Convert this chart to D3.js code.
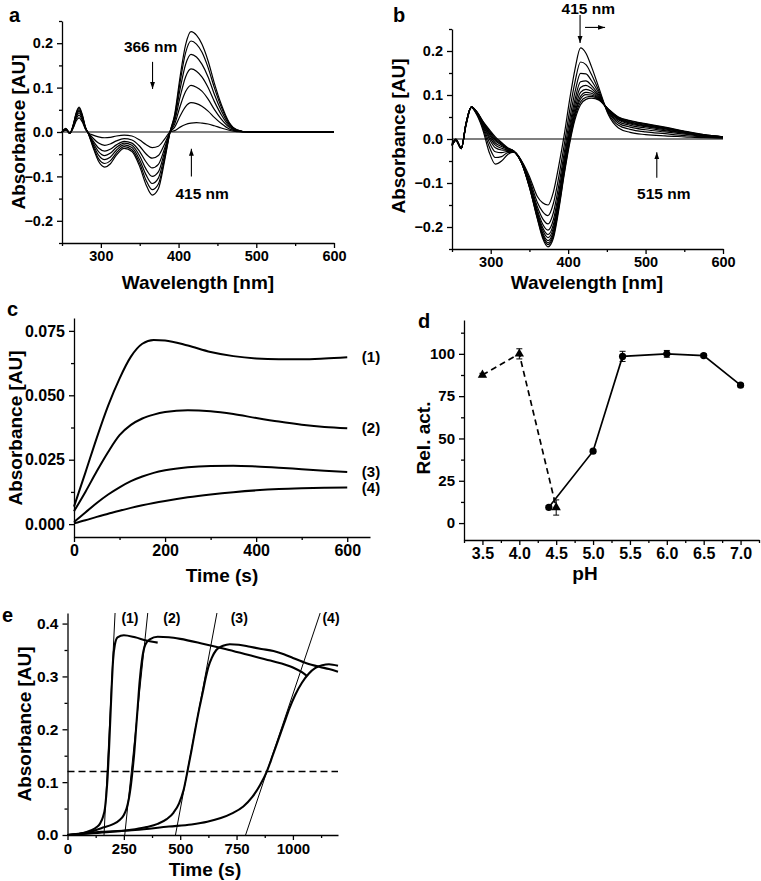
<!DOCTYPE html>
<html><head><meta charset="utf-8">
<script src="https://cdn.jsdelivr.net/npm/d3@7"></script>
<style>
body{margin:0;background:#fff}
svg text{font-family:"Liberation Sans",Arial,sans-serif;font-weight:bold;fill:#000}
</style>
</head><body>
<svg id="fig" width="761" height="881"></svg>
<script>
// ---------- Panel a: difference spectra ----------
const waveA = [250,255,260,265,268,272,276,280,284,290,297,305,312,320,330,340,350,358,366,374,382,389,395,402,409,416,423,430,438,446,455,465,475,490,510,600];
const specA1 = [0,.008,-.003,.02,.042,.056,.04,.012,-.004,-.035,-.066,-.079,-.072,-.052,-.037,-.044,-.078,-.118,-.142,-.128,-.065,0,.04,.125,.196,.226,.218,.198,.16,.11,.062,.022,.005,0,0,0];
const specA2 = [0,.007,-.003,.019,.04,.053,.038,.011,-.004,-.032,-.06,-.071,-.065,-.047,-.033,-.04,-.071,-.108,-.130,-.117,-.06,0,.036,.113,.178,.205,.198,.18,.145,.1,.056,.02,.005,0,0,0];
const specA3 = [0,.007,-.003,.018,.038,.05,.036,.01,-.004,-.028,-.052,-.062,-.057,-.041,-.029,-.035,-.063,-.096,-.116,-.104,-.053,0,.031,.097,.152,.175,.169,.153,.124,.085,.048,.017,.004,0,0,0];
const specA4 = [0,.006,-.003,.017,.035,.047,.034,.01,-.003,-.024,-.044,-.053,-.048,-.035,-.025,-.030,-.054,-.083,-.100,-.09,-.045,0,.025,.079,.124,.142,.137,.124,.1,.069,.039,.014,.003,0,0,0];
const specA5 = [0,.006,-.002,.015,.032,.043,.031,.009,-.003,-.02,-.036,-.043,-.039,-.029,-.021,-.025,-.044,-.067,-.081,-.073,-.037,0,.018,.058,.091,.105,.101,.092,.074,.051,.029,.011,.003,0,0,0];
const specA6 = [0,.005,-.002,.013,.028,.038,.027,.008,-.002,-.014,-.025,-.030,-.027,-.02,-.015,-.018,-.032,-.049,-.059,-.053,-.027,0,.011,.036,.057,.066,.064,.058,.047,.033,.019,.007,.002,0,0,0];
const specA7 = [0,.004,-.002,.011,.024,.032,.023,.007,-.002,-.007,-.011,-.013,-.012,-.009,-.007,-.009,-.018,-.028,-.035,-.032,-.016,0,.003,.011,.017,.020,.021,.02,.018,.014,.009,.004,.001,0,0,0];

// ---------- Panel b: spectra ----------
const waveB = [250,255,262,268,275,282,290,298,306,314,322,330,340,350,360,367,374,381,388,395,402,409,416,423,430,440,452,465,480,500,525,550,575,600];
const specB1 = [-.010,0,-.020,.030,.072,.055,.020,-.030,-.057,-.050,-.035,-.030,-.050,-.085,-.130,-.145,-.150,-.120,-.060,.010,.090,.160,.207,.195,.165,.115,.055,.025,.015,.010,.007,.005,.003,.002];
const specB2 = [-.011,-.001,-.021,.031,.072,.057,.025,-.017,-.042,-.040,-.031,-.030,-.051,-.091,-.143,-.165,-.174,-.146,-.085,-.013,.065,.131,.175,.169,.147,.108,.058,.031,.022,.016,.012,.008,.005,.003];
const specB3 = [-.012,-.001,-.021,.032,.072,.058,.029,-.007,-.029,-.031,-.028,-.029,-.052,-.096,-.153,-.181,-.193,-.167,-.105,-.031,.045,.108,.149,.148,.133,.103,.061,.036,.027,.021,.016,.011,.006,.003];
const specB4 = [-.013,-.002,-.021,.033,.073,.059,.032,.001,-.020,-.025,-.026,-.029,-.053,-.100,-.160,-.193,-.207,-.183,-.120,-.044,.030,.091,.130,.132,.122,.099,.063,.040,.031,.025,.019,.013,.007,.004];
const specB5 = [-.014,-.002,-.021,.034,.073,.060,.034,.006,-.014,-.021,-.025,-.029,-.054,-.103,-.165,-.201,-.217,-.194,-.130,-.053,.020,.080,.117,.122,.115,.096,.064,.043,.034,.028,.021,.014,.008,.004];
const specB6 = [-.014,-.002,-.022,.034,.073,.060,.036,.011,-.009,-.017,-.023,-.028,-.054,-.105,-.169,-.207,-.224,-.202,-.138,-.060,.012,.070,.106,.113,.109,.094,.065,.045,.036,.030,.023,.015,.008,.004];
const specB7 = [-.014,-.003,-.022,.034,.073,.061,.037,.014,-.004,-.014,-.022,-.028,-.054,-.106,-.173,-.213,-.231,-.209,-.145,-.067,.005,.062,.097,.106,.104,.092,.066,.046,.038,.031,.024,.016,.009,.005];
const specB8 = [-.015,-.003,-.022,.035,.073,.061,.038,.017,-.001,-.012,-.022,-.028,-.055,-.108,-.175,-.217,-.236,-.215,-.150,-.071,.000,.057,.091,.101,.100,.091,.067,.048,.039,.033,.025,.017,.009,.005];
const specB9 = [-.015,-.003,-.022,.035,.073,.062,.039,.019,.002,-.010,-.021,-.028,-.055,-.109,-.178,-.221,-.240,-.220,-.155,-.076,-.005,.051,.084,.095,.097,.089,.067,.049,.041,.034,.026,.017,.010,.005];
const specB10 = [-.015,-.003,-.022,.035,.073,.062,.040,.022,.005,-.008,-.020,-.028,-.055,-.110,-.180,-.225,-.245,-.225,-.160,-.080,-.010,.045,.078,.090,.093,.088,.068,.050,.042,.035,.027,.018,.010,.005];

// ---------- Panel c: kinetics ----------
const timeC = [0,25,50,75,100,125,150,175,200,250,300,350,400,450,500,550,600];
const absC1 = [0.0068,0.02,0.0335,0.046,0.0565,0.065,0.0700,0.0715,0.0713,0.0693,0.0668,0.0652,0.0643,0.0640,0.0640,0.0643,0.0648];
const absC2 = [0.005,0.0125,0.0205,0.028,0.0345,0.0385,0.041,0.0425,0.0435,0.0442,0.0438,0.0427,0.0412,0.0398,0.0386,0.0377,0.0372];
const absC3 = [0.0008,0.0045,0.0082,0.0115,0.0143,0.0167,0.0185,0.0199,0.0209,0.0221,0.0226,0.0227,0.0224,0.0219,0.0213,0.0207,0.0202];
const absC4 = [0.0003,0.0015,0.0028,0.004,0.0052,0.0063,0.0073,0.0082,0.009,0.0104,0.0115,0.0124,0.0131,0.0136,0.0139,0.0141,0.0142];
const labelsC = ["(1)","(2)","(3)","(4)"];

// ---------- Panel d: pH profile ----------
const phTri = [3.5,4.0,4.5];
const actTri = [87.5,100,9.2];
const errTri = [1,3,4.5];
const phCirc = [4.4,5.0,5.4,6.0,6.5,7.0];
const actCirc = [9.3,42.5,98.5,100,99,81.5];
const errCirc = [1,1,3,2,1,1];

// ---------- Panel e: lag-phase kinetics ----------
const timeE1 = [0,50,100,130,145,158,166,172,178,184,190,196,202,210,222,250,300,350,400];
const absE1 = [0,0.002,0.008,0.015,0.022,0.035,0.05,0.075,0.11,0.16,0.22,0.28,0.33,0.36,0.374,0.378,0.374,0.368,0.364];
const timeE2 = [0,50,100,150,200,230,250,262,272,280,288,296,304,312,320,330,345,365,400,450,500,600,700,800,900,1000,1040,1062];
const absE2 = [0,0.002,0.006,0.013,0.02,0.028,0.038,0.05,0.068,0.09,0.12,0.155,0.2,0.245,0.29,0.33,0.36,0.37,0.375,0.374,0.371,0.362,0.352,0.341,0.33,0.317,0.308,0.301];
const timeE3 = [0,100,200,300,350,400,440,470,495,515,532,550,567,585,600,612,625,640,660,690,720,760,810,860,914,960,1000,1060,1120,1160,1200];
const absE3 = [0,0.003,0.006,0.011,0.015,0.021,0.03,0.042,0.06,0.085,0.12,0.16,0.2,0.24,0.27,0.295,0.318,0.335,0.35,0.358,0.361,0.36,0.356,0.352,0.348,0.342,0.335,0.325,0.318,0.314,0.309];
const timeE4 = [0,150,300,450,550,620,680,730,780,820,855,884,910,935,960,985,1010,1040,1070,1100,1130,1160,1200];
const absE4 = [0,0.006,0.0095,0.016,0.02,0.025,0.032,0.041,0.054,0.072,0.095,0.12,0.15,0.18,0.21,0.24,0.265,0.288,0.305,0.316,0.321,0.323,0.32];
const tangentT0 = [162,254,479,790];
const tangentT1 = [211,356,663,1121];
const threshold = 0.12;
const labelsE = ["(1)","(2)","(3)","(4)"];
const labelTE = [277,463,762,1169];

// ================= drawing =================
const svg = d3.select('#fig');
const FONT = '"Liberation Sans",Arial,sans-serif';

svg.append('defs').append('marker')
  .attr('id','arr').attr('viewBox','0 0 10 10').attr('refX',10).attr('refY',5)
  .attr('markerWidth',7).attr('markerHeight',7).attr('orient','auto-start-reverse')
  .attr('markerUnits','userSpaceOnUse')
  .append('path').attr('d','M0,1.5 L10,5 L0,8.5 z').attr('fill','#000');

function axes(g, x, y, c) {
  const y0 = y.range()[0], x0 = x.range()[0];
  const style = fs => sel => {
    sel.attr('font-size', fs).attr('font-family', FONT).attr('font-weight','bold');
    sel.selectAll('.domain,.tick line').attr('stroke','#000').attr('stroke-width',1.3);
    sel.selectAll('.tick text').attr('fill','#000');
  };
  g.append('g').attr('transform',`translate(0,${y0})`)
    .call(d3.axisBottom(x).tickValues(c.xMinor).tickFormat('').tickSize(3).tickSizeOuter(0))
    .call(style(c.xfs)).select('.domain').remove();
  g.append('g').attr('transform',`translate(${x0},0)`)
    .call(d3.axisLeft(y).tickValues(c.yMinor).tickFormat('').tickSize(3).tickSizeOuter(0))
    .call(style(c.yfs)).select('.domain').remove();
  g.append('g').attr('transform',`translate(0,${y0})`)
    .call(d3.axisBottom(x).tickValues(c.xMajor).tickFormat(c.xFmt).tickSize(5).tickSizeOuter(0).tickPadding(3))
    .call(style(c.xfs));
  g.append('g').attr('transform',`translate(${x0},0)`)
    .call(d3.axisLeft(y).tickValues(c.yMajor).tickFormat(c.yFmt).tickSize(5).tickSizeOuter(0).tickPadding(4))
    .call(style(c.yfs));
}
function title(g, txt, x, y, rot, size) {
  const t = g.append('text').text(txt).attr('font-size', size || 19).attr('text-anchor','middle');
  if (rot) t.attr('transform',`translate(${x},${y}) rotate(-90)`);
  else t.attr('x',x).attr('y',y);
  return t;
}
function letter(txt, x, y) {
  svg.append('text').text(txt).attr('x',x).attr('y',y).attr('font-size',20);
}
function arrow(g, x1, y1, x2, y2) {
  g.append('line').attr('x1',x1).attr('y1',y1).attr('x2',x2).attr('y2',y2)
    .attr('stroke','#000').attr('stroke-width',1.1).attr('marker-end','url(#arr)');
}

// ---- Panel a ----
{
  const g = svg.append('g');
  const x = d3.scaleLinear().domain([250,600]).range([62,334]);
  const y = d3.scaleLinear().domain([-0.25,0.25]).range([243,21]);
  const line = d3.line().x((d,i)=>x(waveA[i])).y(d=>y(d)).curve(d3.curveMonotoneX);
  g.append('line').attr('x1',x(250)).attr('x2',x(600)).attr('y1',y(0)).attr('y2',y(0)).attr('stroke','#000').attr('stroke-width',1.2);
  [specA1,specA2,specA3,specA4,specA5,specA6,specA7].forEach(s=>{
    g.append('path').attr('d',line(s)).attr('fill','none').attr('stroke','#000').attr('stroke-width',1.2);
  });
  axes(g,x,y,{xMajor:[300,400,500,600],xMinor:[250,350,450,550],xFmt:d3.format('d'),xfs:14.5,yfs:14.5,
    yMajor:[-0.2,-0.1,0,0.1,0.2],yMinor:[-0.25,-0.15,-0.05,0.05,0.15,0.25],yFmt:d3.format('.1f')});
  title(g,'Wavelength [nm]',198,289);
  title(g,'Absorbance [AU]',25,132,true);
  g.append('text').text('366 nm').attr('x',x(364)).attr('y',y(0.181)).attr('text-anchor','middle').attr('font-size',15.5);
  arrow(g,x(366.5),y(0.158),x(366.5),y(0.097));
  g.append('text').text('415 nm').attr('x',x(396)).attr('y',y(-0.15)).attr('font-size',15.5);
  arrow(g,x(416.5),y(-0.1),x(416.5),y(-0.038));
}
letter('a',9,22);

// ---- Panel b ----
{
  const g = svg.append('g');
  const x = d3.scaleLinear().domain([250,600]).range([452,723]);
  const y = d3.scaleLinear().domain([-0.25,0.25]).range([249,29]);
  const line = d3.line().x((d,i)=>x(waveB[i])).y(d=>y(d)).curve(d3.curveMonotoneX);
  g.append('line').attr('x1',x(250)).attr('x2',x(600)).attr('y1',y(0)).attr('y2',y(0)).attr('stroke','#000').attr('stroke-width',1.2);
  [specB1,specB2,specB3,specB4,specB5,specB6,specB7,specB8,specB9,specB10].forEach(s=>{
    g.append('path').attr('d',line(s)).attr('fill','none').attr('stroke','#000').attr('stroke-width',1.2);
  });
  axes(g,x,y,{xMajor:[300,400,500,600],xMinor:[250,350,450,550],xFmt:d3.format('d'),xfs:14.5,yfs:14.5,
    yMajor:[-0.2,-0.1,0,0.1,0.2],yMinor:[-0.25,-0.15,-0.05,0.05,0.15,0.25],yFmt:d3.format('.1f')});
  title(g,'Wavelength [nm]',587,289);
  title(g,'Absorbance [AU]',405,136,true);
  g.append('text').text('415 nm').attr('x',x(426)).attr('y',14).attr('text-anchor','middle').attr('font-size',15.5);
  arrow(g,x(415.4),15,x(415.4),43);
  arrow(g,x(421.8),y(0.2536),x(447.7),y(0.2536));
  g.append('text').text('515 nm').attr('x',x(489)).attr('y',y(-0.137)).attr('font-size',15.5);
  arrow(g,x(514.5),y(-0.088),x(514.5),y(-0.03));
}
letter('b',393,22);

// ---- Panel c ----
{
  const g = svg.append('g');
  const x = d3.scaleLinear().domain([0,650]).range([74,370]);
  const y = d3.scaleLinear().domain([-0.005,0.08]).range([537,318]);
  const line = d3.line().x((d,i)=>x(timeC[i])).y(d=>y(d)).curve(d3.curveMonotoneX);
  [absC1,absC2,absC3,absC4].forEach((s,k)=>{
    g.append('path').attr('d',line(s)).attr('fill','none').attr('stroke','#000').attr('stroke-width',2);
    g.append('text').text(labelsC[k]).attr('x',371).attr('y',y(s[s.length-1])+5).attr('text-anchor','middle').attr('font-size',15);
  });
  axes(g,x,y,{xMajor:[0,200,400,600],xMinor:[100,300,500],xFmt:d3.format('d'),xfs:16,yfs:16,
    yMajor:[0,0.025,0.05,0.075],yMinor:[0.0125,0.0375,0.0625],yFmt:d3.format('.3f')});
  title(g,'Time (s)',222,582);
  title(g,'Absorbance [AU]',22,428,true);
}
letter('c',7,316);

// ---- Panel d ----
{
  const g = svg.append('g');
  const x = d3.scaleLinear().domain([3.25,7.25]).range([464,759]);
  const y = d3.scaleLinear().domain([-10,120]).range([540,320]);
  const lineT = d3.line().x((d,i)=>x(phTri[i])).y(d=>y(d));
  const lineC = d3.line().x((d,i)=>x(phCirc[i])).y(d=>y(d));
  g.append('path').attr('d',lineT(actTri)).attr('fill','none').attr('stroke','#000').attr('stroke-width',1.7).attr('stroke-dasharray','6,4');
  g.append('path').attr('d',lineC(actCirc)).attr('fill','none').attr('stroke','#000').attr('stroke-width',1.7);
  const eb = (px, vals, errs) => vals.forEach((v,i)=>{
    const cx = x(px[i]);
    g.append('line').attr('x1',cx).attr('x2',cx).attr('y1',y(v-errs[i])).attr('y2',y(v+errs[i])).attr('stroke','#000').attr('stroke-width',1);
    [v-errs[i], v+errs[i]].forEach(e=>g.append('line').attr('x1',cx-3).attr('x2',cx+3).attr('y1',y(e)).attr('y2',y(e)).attr('stroke','#000').attr('stroke-width',1));
  });
  eb(phTri,actTri,errTri); eb(phCirc,actCirc,errCirc);
  const tri = d3.symbol().type(d3.symbolTriangle).size(38);
  actTri.forEach((v,i)=>g.append('path').attr('d',tri()).attr('transform',`translate(${x(phTri[i])},${y(v)})`).attr('fill','#000'));
  actCirc.forEach((v,i)=>g.append('circle').attr('cx',x(phCirc[i])).attr('cy',y(v)).attr('r',3.6).attr('fill','#000'));
  axes(g,x,y,{xMajor:[3.5,4,4.5,5,5.5,6,6.5,7],xMinor:[3.25,3.75,4.25,4.75,5.25,5.75,6.25,6.75,7.25],xFmt:d3.format('.1f'),xfs:16,yfs:15,
    yMajor:[0,25,50,75,100],yMinor:[12.5,37.5,62.5,87.5,112.5],yFmt:d3.format('d')});
  title(g,'pH',585,580);
  title(g,'Rel. act.',430,438,true);
}
letter('d',418,328);

// ---- Panel e ----
{
  const g = svg.append('g');
  const x = d3.scaleLinear().domain([0,1200]).range([67.5,338]);
  const y = d3.scaleLinear().domain([0,0.42]).range([835,613]);
  const mk = t => d3.line().x((d,i)=>x(t[i])).y(d=>y(d)).curve(d3.curveMonotoneX);
  g.append('line').attr('x1',x(0)).attr('x2',x(1200)).attr('y1',y(threshold)).attr('y2',y(threshold))
    .attr('stroke','#000').attr('stroke-width',1.6).attr('stroke-dasharray','7,4');
  tangentT0.forEach((t0,i)=>{
    g.append('line').attr('x1',x(t0)).attr('y1',y(0)).attr('x2',x(tangentT1[i])).attr('y2',y(0.42))
      .attr('stroke','#000').attr('stroke-width',1);
  });
  [[timeE1,absE1],[timeE2,absE2],[timeE3,absE3],[timeE4,absE4]].forEach(([t,a])=>{
    g.append('path').attr('d',mk(t)(a)).attr('fill','none').attr('stroke','#000').attr('stroke-width',2.1);
  });
  labelsE.forEach((l,i)=>g.append('text').text(l).attr('x',x(labelTE[i])).attr('y',623).attr('text-anchor','middle').attr('font-size',14));
  axes(g,x,y,{xMajor:[0,250,500,750,1000],xMinor:[125,375,625,875,1125],xFmt:d3.format('d'),xfs:15,yfs:15.5,
    yMajor:[0,0.1,0.2,0.3,0.4],yMinor:[0.05,0.15,0.25,0.35],yFmt:d3.format('.1f')});
  title(g,'Time (s)',205,876);
  title(g,'Absorbance [AU]',31,724,true);
}
letter('e',2,622);
</script>
</body></html>
